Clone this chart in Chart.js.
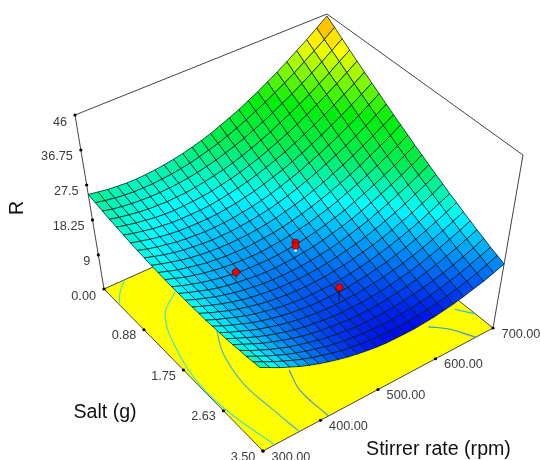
<!DOCTYPE html>
<html><head><meta charset="utf-8"><style>html,body{margin:0;padding:0;background:#fff}canvas{display:block}</style>
<script src="https://cdn.jsdelivr.net/npm/chart.js@4"></script></head><body>
<div style="width:540px;height:460px"><canvas id="c" width="540" height="460"></canvas></div>
<script>
const rTicks=[0,9,18.25,27.5,36.75,46];
const rTickLabels=["0.00","9","18.25","27.5","36.75","46"];
const saltTicks=[0.88,1.75,2.63,3.5];
const saltTickLabels=["0.88","1.75","2.63","3.50"];
const rpmTicks=[300,400,500,600,700];
const rpmTickLabels=["300.00","400.00","500.00","600.00","700.00"];
const saltGrid=[0,.14,.28,.42,.56,.7,.84,.98,1.12,1.26,1.4,1.54,1.68,1.82,1.96,2.1,2.24,2.38,2.52,2.66,2.8,2.94,3.08,3.22,3.36,3.5];
const rpmGrid=[300,316,332,348,364,380,396,412,428,444,460,476,492,508,524,540,556,572,588,604,620,636,652,668,684,700];
const surfaceR=[
[25,24.6,24.2,24,23.8,23.8,23.9,24.1,24.4,24.8,25.3,25.9,26.6,27.4,28.4,29.4,30.5,31.8,33.1,34.6,36.1,37.8,39.6,41.4,43.4,45.5],
[24.6,24.1,23.7,23.4,23.2,23.2,23.2,23.4,23.6,24,24.4,25,25.7,26.4,27.3,28.3,29.4,30.6,31.9,33.3,34.8,36.4,38.2,40,41.9,44],
[24.2,23.6,23.2,22.9,22.7,22.6,22.6,22.7,22.9,23.2,23.6,24.1,24.7,25.5,26.3,27.2,28.3,29.4,30.7,32.1,33.5,35.1,36.8,38.6,40.5,42.5],
[23.8,23.2,22.8,22.4,22.1,22,21.9,22,22.1,22.4,22.8,23.3,23.8,24.5,25.3,26.2,27.2,28.3,29.6,30.9,32.3,33.8,35.5,37.2,39.1,41],
[23.5,22.9,22.4,22,21.6,21.4,21.3,21.4,21.5,21.7,22,22.5,23,23.6,24.4,25.2,26.2,27.3,28.4,29.7,31.1,32.6,34.2,35.9,37.7,39.6],
[23.2,22.5,22,21.5,21.2,20.9,20.8,20.8,20.8,21,21.3,21.7,22.2,22.8,23.5,24.3,25.2,26.2,27.4,28.6,29.9,31.4,32.9,34.6,36.3,38.2],
[22.9,22.2,21.6,21.1,20.7,20.4,20.3,20.2,20.2,20.3,20.6,20.9,21.4,21.9,22.6,23.4,24.2,25.2,26.3,27.5,28.8,30.2,31.7,33.3,35,36.8],
[22.7,21.9,21.3,20.8,20.3,20,19.8,19.6,19.6,19.7,19.9,20.2,20.6,21.1,21.7,22.5,23.3,24.2,25.3,26.4,27.7,29,30.5,32,33.7,35.5],
[22.5,21.7,21,20.4,19.9,19.6,19.3,19.1,19.1,19.1,19.3,19.5,19.9,20.3,20.9,21.6,22.4,23.3,24.3,25.4,26.6,27.9,29.3,30.8,32.5,34.2],
[22.3,21.5,20.8,20.1,19.6,19.2,18.9,18.7,18.6,18.6,18.7,18.9,19.2,19.6,20.2,20.8,21.5,22.4,23.3,24.4,25.5,26.8,28.2,29.7,31.3,32.9],
[22.2,21.3,20.5,19.9,19.3,18.8,18.5,18.2,18.1,18,18.1,18.3,18.5,18.9,19.4,20,20.7,21.5,22.4,23.4,24.5,25.7,27.1,28.5,30.1,31.7],
[22.1,21.2,20.3,19.6,19,18.5,18.1,17.8,17.6,17.5,17.5,17.7,17.9,18.2,18.7,19.2,19.9,20.6,21.5,22.5,23.5,24.7,26,27.4,28.9,30.5],
[22,21,20.2,19.4,18.8,18.2,17.8,17.4,17.2,17.1,17,17.1,17.3,17.6,18,18.5,19.1,19.8,20.6,21.6,22.6,23.7,25,26.3,27.8,29.3],
[22,21,20.1,19.2,18.5,17.9,17.5,17.1,16.8,16.6,16.5,16.6,16.7,17,17.3,17.8,18.4,19,19.8,20.7,21.7,22.8,24,25.3,26.7,28.2],
[22,20.9,20,19.1,18.4,17.7,17.2,16.8,16.4,16.2,16.1,16.1,16.2,16.4,16.7,17.1,17.6,18.3,19,19.8,20.8,21.8,23,24.2,25.6,27.1],
[22,20.9,19.9,19,18.2,17.5,16.9,16.5,16.1,15.8,15.7,15.6,15.7,15.8,16.1,16.5,17,17.5,18.2,19,19.9,20.9,22,23.3,24.6,26],
[22.1,20.9,19.9,18.9,18.1,17.4,16.7,16.2,15.8,15.5,15.3,15.2,15.2,15.3,15.6,15.9,16.3,16.9,17.5,18.2,19.1,20.1,21.1,22.3,23.6,25],
[22.1,20.9,19.9,18.9,18,17.2,16.6,16,15.5,15.2,14.9,14.8,14.8,14.8,15,15.3,15.7,16.2,16.8,17.5,18.3,19.2,20.2,21.4,22.6,23.9],
[22.3,21,19.9,18.9,17.9,17.1,16.4,15.8,15.3,14.9,14.6,14.4,14.4,14.4,14.5,14.8,15.1,15.6,16.1,16.8,17.5,18.4,19.4,20.5,21.7,23],
[22.4,21.1,20,18.9,17.9,17.1,16.3,15.7,15.1,14.7,14.3,14.1,14,14,14.1,14.3,14.6,15,15.5,16.1,16.8,17.6,18.6,19.6,20.8,22],
[22.6,21.3,20.1,18.9,17.9,17,16.2,15.5,14.9,14.5,14.1,13.8,13.6,13.6,13.6,13.8,14,14.4,14.9,15.4,16.1,16.9,17.8,18.8,19.9,21.1],
[22.8,21.5,20.2,19,18,17,16.2,15.4,14.8,14.3,13.9,13.6,13.3,13.2,13.2,13.3,13.6,13.9,14.3,14.8,15.5,16.2,17.1,18,19.1,20.2],
[23.1,21.6,20.3,19.1,18,17,16.2,15.4,14.7,14.1,13.7,13.3,13,12.9,12.9,12.9,13.1,13.4,13.8,14.2,14.8,15.5,16.3,17.2,18.2,19.4],
[23.3,21.9,20.5,19.3,18.1,17.1,16.2,15.4,14.6,14,13.5,13.1,12.8,12.6,12.5,12.5,12.7,12.9,13.2,13.7,14.2,14.9,15.6,16.5,17.5,18.5],
[23.7,22.2,20.8,19.5,18.3,17.2,16.2,15.4,14.6,13.9,13.4,12.9,12.6,12.4,12.2,12.2,12.3,12.5,12.8,13.2,13.7,14.3,15,15.8,16.7,17.8],
[24,22.5,21,19.7,18.4,17.3,16.3,15.4,14.6,13.9,13.3,12.8,12.4,12.1,12,11.9,11.9,12.1,12.3,12.7,13.1,13.7,14.4,15.1,16,17]];
const designRpm=[500,500,400,500];
const designSalt=[1.75,1.75,1.75,2.63];
const designR=[19.4,18.6,19.1,17.7];
const designFit=[16.9,16.9,17.4,13.9];
const contours=[
 {color:"#48e8b8",rpm:[338,315,302],salt:[0,.17,.32]},
 {color:"#48e0c8",rpm:[386,344,316,302,305,320],salt:[.53,.81,1.41,2.09,2.71,3.5]},
 {color:"#48b8c8",rpm:[388,367,355,358,363],salt:[1.4,1.8,2.38,2.92,3.5]},
 {color:"#4898c8",rpm:[424,412,414],salt:[2.53,2.91,3.5]},
 {color:"#3098d0",rpm:[633,653,670],salt:[2.96,3.17,3.5]},
 {color:"#28c0e0",rpm:[684,700],salt:[2.9,3.14]}];
// box corners on screen: [salt 0/rpm 300, salt 3.5/rpm 300, salt 3.5/rpm 700, salt 0/rpm 700]
const FLOOR=[[104,289],[263,451],[493,328],[322,191]];
const TOP=[[75,115],[257,291],[523,155],[327,14]];
function bil(Q,s,t,k){return (1-s)*(1-t)*Q[0][k]+s*(1-t)*Q[1][k]+s*t*Q[2][k]+(1-s)*t*Q[3][k];}
function P(rpm,salt,r){const s=salt/3.5,t=(rpm-300)/400,f=r/46;
 return {x:bil(FLOOR,s,t,0)*(1-f)+bil(TOP,s,t,0)*f,y:bil(FLOOR,s,t,1)*(1-f)+bil(TOP,s,t,1)*f};}
const STOPS=[[11.5,0,0,235],[21.5,0,255,255],[26.5,0,238,90],[32,0,240,10],[41,255,255,0],[47,255,130,0]];
function col(v){v=Math.max(11.5,Math.min(47,v));for(let i=0;i<STOPS.length-1;i++){const a=STOPS[i],b=STOPS[i+1];if(v<=b[0]){const k=(v-a[0])/(b[0]-a[0]);
 return `rgb(${a[1]+(b[1]-a[1])*k|0},${a[2]+(b[2]-a[2])*k|0},${a[3]+(b[3]-a[3])*k|0})`;}}}
const ds=[];
function line(data,c,w,extra){ds.push(Object.assign({data,showLine:true,borderColor:c,borderWidth:w,pointRadius:0,fill:false,tension:0},extra||{}));}
line([P(300,0,0),P(300,3.5,0),P(700,3.5,0),P(700,0,0),P(300,0,0)],"#444",1,{fill:"shape",backgroundColor:"#ffff00"});
contours.forEach(c=>line(c.rpm.map((r,i)=>P(r,c.salt[i],0)),c.color,1.2,{tension:.4}));
line([P(300,0,0),P(300,0,46),P(700,0,46),P(700,3.5,46),P(700,3.5,0)],"#444",1);
for(let i=0;i<saltGrid.length-1;i++){for(let j=rpmGrid.length-2;j>=0;j--){
 const v=[[i,j],[i+1,j],[i+1,j+1],[i,j+1]];
 const pts=v.map(([a,b])=>P(rpmGrid[b],saltGrid[a],surfaceR[a][b]));pts.push(pts[0]);
 const avg=v.reduce((m,[a,b])=>m+surfaceR[a][b],0)/4;
 line(pts,"rgba(0,25,30,.85)",.9,{fill:"shape",backgroundColor:col(avg)});
}}
designR.forEach((r,i)=>{line([P(designRpm[i],designSalt[i],r),P(designRpm[i],designSalt[i],designFit[i])],i<2?"#ffd8d0":"#111",i<2?2:1);});
ds.push({data:designR.map((r,i)=>P(designRpm[i],designSalt[i],r)),showLine:false,pointRadius:3.6,pointBackgroundColor:"#f00000",pointBorderColor:"#700000",pointBorderWidth:.7});
ds.push({data:[...rTicks.map(r=>P(300,0,r)),...saltTicks.map(s=>P(300,s,0)),...rpmTicks.map(r=>P(r,3.5,0))],showLine:false,pointRadius:1.6,pointBackgroundColor:"#000",pointBorderWidth:0});
const labels={id:"labels",afterDraw(ch){const g=ch.ctx,sx=ch.scales.x,sy=ch.scales.y;
 function T(s,x,y,al,f,c,rot){g.save();g.font=f;g.fillStyle=c;g.textAlign=al;g.textBaseline="middle";g.translate(sx.getPixelForValue(x),sy.getPixelForValue(y));if(rot)g.rotate(rot);g.fillText(s,0,0);g.restore();}
 const f1="12.7px 'Liberation Sans'",c1="#3c3c3c";
 rTicks.forEach((r,i)=>{const p=P(300,0,r);T(rTickLabels[i],p.x-8,p.y+7,"right",f1,c1);});
 saltTicks.forEach((s,i)=>{const p=P(300,s,0);T(saltTickLabels[i],p.x-20,p.y+6,"center",f1,c1);});
 rpmTicks.forEach((r,i)=>{const p=P(r,3.5,0);T(rpmTickLabels[i],p.x+28,p.y+6,"center",f1,c1);});
 const f2="19.6px 'Liberation Sans'",c2="#111";
 T("R",18,208,"center",f2,c2,-Math.PI/2);
 T("Salt (g)",105,413,"center",f2,c2);
 T("Stirrer rate (rpm)",438.5,450,"center",f2,c2);
}};
ds.reverse();
new Chart(document.getElementById("c"),{type:"scatter",data:{datasets:ds},plugins:[labels],options:{
 responsive:false,animation:false,events:[],layout:{padding:0,autoPadding:false},
 plugins:{legend:{display:false},tooltip:{enabled:false},filler:{propagate:false}},
 scales:{x:{type:"linear",min:0,max:540,display:false},y:{type:"linear",min:0,max:460,reverse:true,display:false}}}});
</script></body></html>
